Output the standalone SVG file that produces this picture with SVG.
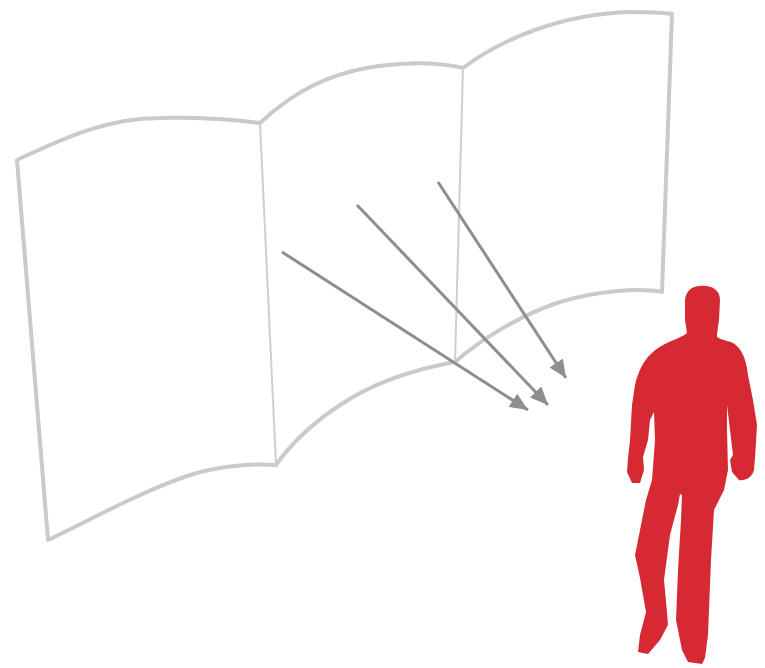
<svg xmlns="http://www.w3.org/2000/svg" width="765" height="668" viewBox="0 0 765 668">
  <style>
    .frame { fill: none; stroke: #cacaca; stroke-width: 4; stroke-linejoin: round; stroke-linecap: round; }
    .seam { fill: none; stroke: #cfcfcf; stroke-width: 2; }
    .ray { fill: none; stroke: #8e8e8e; stroke-width: 3; marker-end: url(#head); }
    .figure { fill: #d52a34; }
  </style>
  <defs>
    <marker id="head" markerUnits="userSpaceOnUse" markerWidth="20" markerHeight="16" refX="18" refY="8" orient="auto">
      <path d="M0,0 L18,8 L0,16 Z" fill="#8e8e8e"/>
    </marker>
  </defs>
  <rect width="765" height="668" fill="#ffffff"/>

  <!-- curved three-panel screen -->
  <g id="screen">
    <path class="frame" d="M17,160 C70,135 110,118 160,118 C200,117 240,120 260,123
      C290,95 330,68 400,64 C430,62 450,65 463,68
      C500,40 560,14 630,12 C650,12 665,13 672,14
      L662,292
      C640,288 600,290 560,302 C520,315 480,340 455,362
      C410,370 370,385 340,405 C310,425 290,445 276,465
      C250,463 215,467 190,475 C140,492 90,520 48,540 Z"/>
    <path class="seam" d="M260,123 L276,465"/>
    <path class="seam" d="M463,68 L455,362"/>
  </g>

  <!-- viewing rays -->
  <g id="rays">
    <line class="ray" x1="282" y1="252" x2="528" y2="410"/>
    <line class="ray" x1="357" y1="205" x2="548" y2="405"/>
    <line class="ray" x1="438" y1="182" x2="566" y2="378"/>
  </g>

  <!-- viewer silhouette -->
  <g id="viewer">
    <path class="figure" d="M700,286 C712,285 720,290 720,300 L719,320 C718,328 717,333 717,337
      C722,340 727,341 731,342 C740,346 746,356 748,375
      L753,400 L757,425 L755,458
      L754,470 C752,478 745,481 739,480 L732,472 L730,460 L733,455
      L730,430 L727,405
      L727,430 L728,470 L724,490
      L714,510 L711,560 L709,610 L708,635 L705,658
      L702,664 L688,662 L682,650
      L676,620 L678,570 L681,520 L682,495 L680,494
      L678,505 L670,535 L664,580 L667,612 L668,625
      L660,640 L648,654 L638,652 L640,635
      L646,612 L640,578 L635,555 L640,530 L646,500
      L652,480 L655,440 L654,412
      L650,420 L648,440 L643,457
      L644,470 L640,483 L632,483 L627,472 L628,458
      L630,440 L632,405 L635,385 C640,365 648,352 667,343
      C676,339 682,337 687,333
      L685,320 L685,300 C686,291 692,286 700,286 Z"/>
  </g>
</svg>
